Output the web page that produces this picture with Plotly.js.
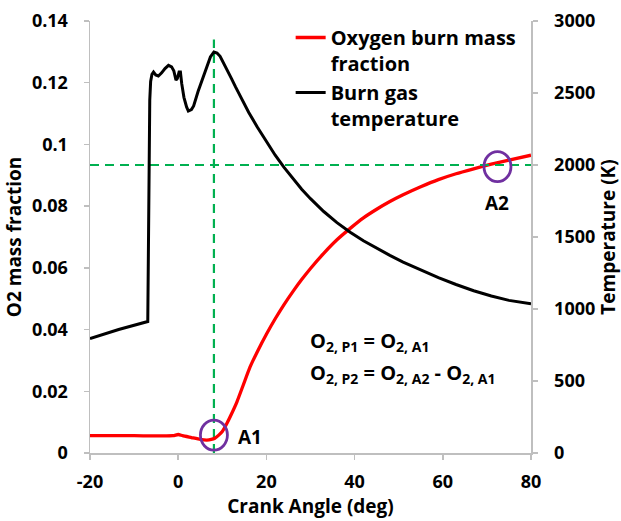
<!DOCTYPE html>
<html>
<head>
<meta charset="utf-8">
<script src="https://cdn.plot.ly/plotly-3.0.1.min.js"></script>
<style>
  html, body { margin: 0; padding: 0; background: #fff; }
  #chart { width: 621px; height: 521px; }
</style>
</head>
<body>
<div id="chart"></div>
<script>
// Oxygen burn mass fraction (left axis) against crank angle
const crankO2 = [-20, -10, -1.2, 0, 1, 3, 5, 6.5, 7.5, 8.3, 9.2, 10, 11, 12, 13.3, 14.8, 16.3, 18, 20,
  22, 24, 26, 28, 30, 33, 36, 39, 42, 45, 48, 51, 55, 59, 63, 67, 71, 75, 80];
const o2Fraction = [0.0056, 0.0056, 0.0056, 0.0060, 0.0056, 0.0050, 0.0044, 0.0042, 0.0044, 0.0048, 0.0058, 0.0070, 0.0095, 0.0124, 0.0165, 0.0222, 0.0279, 0.0330, 0.0385,
  0.0435, 0.0481, 0.0523, 0.0562, 0.0598, 0.0647, 0.0691, 0.0728, 0.0762, 0.0790, 0.0815, 0.0837, 0.0863, 0.0886, 0.0905, 0.0921, 0.0936, 0.0949, 0.0965];

// Burn gas temperature (right axis, K) against crank angle
const crankTemp = [-20, -13.5, -6.9, -6.75, -6.6, -6.45, -6.25, -5.95, -5.6, -5.1, -4.5, -3.75, -3.0, -2.2, -1.5, -1.0, -0.5, -0.2, 0.2, 0.5, 0.8,
  1.3, 1.9, 2.3, 3.0, 3.5, 4.5, 5.7, 6.5, 7.3, 8.1, 8.8, 9.5, 10.3, 11.2, 12, 13, 14, 16, 18, 20, 22, 24, 26, 28, 30,
  33, 36, 39, 42, 45, 48, 51, 55, 59, 63, 67, 71, 75, 80];
const gasTemp = [794, 858, 913, 1400, 2000, 2450, 2580, 2630, 2645, 2625, 2618, 2640, 2670, 2692, 2682, 2655, 2590, 2600, 2645, 2645, 2565,
  2470, 2403, 2375, 2385, 2410, 2510, 2611, 2690, 2750, 2785, 2778, 2755, 2710, 2650, 2605, 2542, 2480, 2365, 2260, 2160, 2068, 1983, 1904, 1832, 1766,
  1677, 1600, 1533, 1474, 1421, 1372, 1326, 1270, 1218, 1170, 1127, 1090, 1060, 1037];

// Guide lines: crank angle of point A1 and the 2000 K temperature level
const guideCrank = [8.1, 8.1];
const guideO2 = [0, 0.134];
const guideSpanCrank = [-20, 80];
const guideSpanTemp = [2000, 2000];

// Marked points A1 and A2 on the O2 curve
const pointNames = ['A1', 'A2'];
const pointCrank = [8.1, 72.4];
const pointO2 = [0.0058, 0.0928];

// Axis ticks
const xTickVals = [-20, 0, 20, 40, 60, 80];
const xTickText = ['-20', '0', '20', '40', '60', '80'];
const yTickVals = [0, 0.02, 0.04, 0.06, 0.08, 0.1, 0.12, 0.14];
const yTickText = ['0', '0.02', '0.04', '0.06', '0.08', '0.1', '0.12', '0.14'];
const y2TickVals = [0, 500, 1000, 1500, 2000, 2500, 3000];
const y2TickText = ['0', '500', '1000', '1500', '2000', '2500', '3000'];

const FONT = 'Open Sans, sans-serif';
const GREEN = '#00B050';
const PURPLE = '#7030A0';
const AXIS_GREY = '#BFBFBF';

const traces = [
  {
    x: guideCrank, y: guideO2, yaxis: 'y', mode: 'lines', showlegend: false, hoverinfo: 'skip',
    line: { color: GREEN, width: 2.2, dash: '9px,6px' }
  },
  {
    x: guideSpanCrank, y: guideSpanTemp, yaxis: 'y2', mode: 'lines', showlegend: false, hoverinfo: 'skip',
    line: { color: GREEN, width: 2.2, dash: '9px,6px' }
  },
  {
    name: 'Oxygen burn mass<br>fraction',
    x: crankO2, y: o2Fraction, yaxis: 'y', mode: 'lines',
    line: { color: '#FF0000', width: 3.3, shape: 'spline', smoothing: 0.5 }
  },
  {
    name: 'Burn gas<br>temperature',
    x: crankTemp, y: gasTemp, yaxis: 'y2', mode: 'lines',
    line: { color: '#000000', width: 3 }
  }
];

const shapes = pointCrank.map((cx, i) => ({
  type: 'circle', xref: 'x', yref: 'y', layer: 'above',
  xsizemode: 'pixel', ysizemode: 'pixel',
  xanchor: cx, yanchor: pointO2[i],
  x0: -13.5, x1: 13.5, y0: -15, y1: 15,
  line: { color: PURPLE, width: 2.8 }
}));

const labelOffsets = [[36, -2], [0, -36]];
const annotations = pointNames.map((name, i) => ({
  text: name, x: pointCrank[i], y: pointO2[i], xref: 'x', yref: 'y',
  xshift: labelOffsets[i][0], yshift: labelOffsets[i][1],
  showarrow: false, xanchor: 'center', yanchor: 'middle',
  font: { family: FONT, size: 19, weight: 'bold', color: '#000' }
}));

annotations.push(
  {
    text: 'O<sub>2, P1</sub> = O<sub>2, A1</sub>',
    xref: 'paper', yref: 'paper', x: 0.494, y: 0.258, xanchor: 'left', yanchor: 'middle',
    showarrow: false, font: { family: FONT, size: 20, weight: 'bold', color: '#000' }
  },
  {
    text: 'O<sub>2, P2</sub> = O<sub>2, A2</sub> - O<sub>2, A1</sub>',
    xref: 'paper', yref: 'paper', x: 0.494, y: 0.184, xanchor: 'left', yanchor: 'middle',
    showarrow: false, font: { family: FONT, size: 20, weight: 'bold', color: '#000' }
  }
);

const axisCommon = {
  showgrid: false, zeroline: false, showline: true,
  linecolor: AXIS_GREY, linewidth: 1.5,
  ticks: 'outside', ticklen: 5, tickwidth: 1.5, tickcolor: AXIS_GREY,
  tickfont: { family: FONT, size: 18, weight: 'bold', color: '#000' },
  tickmode: 'array'
};

const layout = {
  width: 621, height: 521,
  margin: { l: 90, r: 90, t: 21, b: 68, pad: 0 },
  paper_bgcolor: '#fff', plot_bgcolor: '#fff',
  font: { family: FONT, color: '#000' },
  xaxis: Object.assign({}, axisCommon, {
    range: [-20, 80], tickvals: xTickVals, ticktext: xTickText,
    ticklabelstandoff: 7,
    title: { text: 'Crank Angle (deg)', standoff: 6, font: { family: FONT, size: 19, weight: 'bold', color: '#000' } }
  }),
  yaxis: Object.assign({}, axisCommon, {
    range: [0, 0.14], tickvals: yTickVals, ticktext: yTickText,
    ticklabelstandoff: 12,
    title: { text: 'O2 mass fraction', standoff: 5, font: { family: FONT, size: 19, weight: 'bold', color: '#000' } }
  }),
  yaxis2: Object.assign({}, axisCommon, {
    range: [0, 3000], tickvals: y2TickVals, ticktext: y2TickText,
    overlaying: 'y', side: 'right', anchor: 'x',
    ticklabelstandoff: 13,
    title: { text: 'Temperature (K)', standoff: 6, font: { family: FONT, size: 19, weight: 'bold', color: '#000' } }
  }),
  legend: {
    x: 0.455, y: 1.007, xanchor: 'left', yanchor: 'top',
    bgcolor: 'rgba(0,0,0,0)', borderwidth: 0,
    valign: 'top', tracegroupgap: 0,
    font: { family: FONT, size: 20, weight: 'bold', color: '#000' }
  },
  shapes: shapes,
  annotations: annotations,
  showlegend: true
};

Plotly.newPlot('chart', traces, layout, { displayModeBar: false, staticPlot: true });
</script>
</body>
</html>
